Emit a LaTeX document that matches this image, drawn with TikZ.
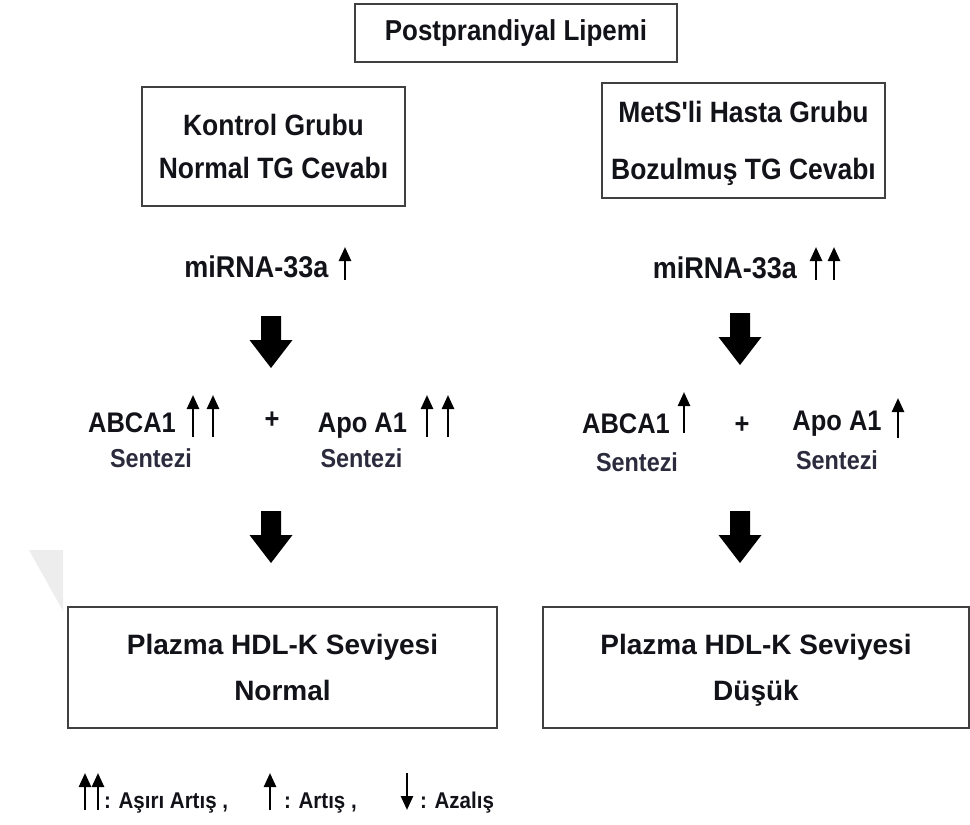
\documentclass[tikz,border=0pt]{standalone}
\usepackage{fontspec}
\setmainfont{Liberation Sans}[FakeStretch=0.9, Ligatures=TeXOff]
\newfontfamily\widefont{Liberation Sans}[Ligatures=TeXOff]
\usetikzlibrary{arrows.meta, positioning}
\definecolor{boxgrey}{rgb}{0.25, 0.25, 0.25}
\definecolor{textdark}{rgb}{0.07, 0.07, 0.1}
\definecolor{sentgrey}{rgb}{0.17, 0.17, 0.24}
\definecolor{markgrey}{rgb}{0.93, 0.93, 0.93}

\tikzset{
    box/.style = {draw=boxgrey, line width=2pt, align=center, inner sep=0pt, text=textdark},
    lbl/.style = {anchor=base, inner sep=0pt, text=textdark},
    upmark/.style = {-{Triangle[length=14pt, width=12pt]}, line width=2.5pt},
    pics/bigdown/.style = {code={
        \fill (-10,0) -- (10,0) -- (10,24) -- (21.5,24) -- (0,52) -- (-21.5,24) -- (-10,24) -- cycle;
    }}
}

\begin{document}
\begin{tikzpicture}[x=1pt, y=-1pt]
    \useasboundingbox (0,0) rectangle (970,825);
    \fill[markgrey] (29,550) -- (63,550) -- (63,611) -- cycle;

    % boxes
    \node[box, minimum width=322pt, minimum height=58pt, font=\bfseries\fontsize{28.8}{30}\selectfont] (lipemi) at (516,33) {Postprandiyal Lipemi};
    \node[box, minimum width=263pt, minimum height=119pt, font=\bfseries\fontsize{29.4}{43}\selectfont] (kontrol) at (273.5,146.5) {Kontrol Grubu\\Normal TG Cevabı};
    \node[box, minimum width=283pt, minimum height=115pt, font=\bfseries\fontsize{29.4}{57}\selectfont] (mets) at (743.5,140.5) {MetS'li Hasta Grubu\\Bozulmu\smash{ş} TG Cevabı};
    \node[box, minimum width=429pt, minimum height=121pt, font=\widefont\bfseries\fontsize{28}{46}\selectfont] (hdlnormal) at (282.5,667.5) {Plazma HDL-K Seviyesi\\Normal};
    \node[box, minimum width=426pt, minimum height=121pt, font=\widefont\bfseries\fontsize{28}{46}\selectfont] (hdldusuk) at (756,667.5) {Plazma HDL-K Seviyesi\\Dü\smash{ş}ük};

    \begin{scope}[every node/.style = {lbl, font=\bfseries\fontsize{28.3}{30}\selectfont}]
        \node[font=\bfseries\fontsize{30}{32}\selectfont] (mirA) at (256.5,277) {miRNA-33a};
        \node[font=\bfseries\fontsize{30}{32}\selectfont] (mirB) at (725,278) {miRNA-33a};
        \node (abcaA) at (132,432) {ABCA1};
        \node (apoA) at (362.5,432) {Apo A1};
        \node (abcaB) at (626,433) {ABCA1};
        \node (apoB) at (837,430) {Apo A1};
        \node[anchor=center] (plusA) at (272,420) {+};
        \node[anchor=center] (plusB) at (742,425) {+};
        \node[text=sentgrey, font=\bfseries\fontsize{26}{28}\selectfont] (sentA1) at (151,467) {Sentezi};
        \node[text=sentgrey, font=\bfseries\fontsize{26}{28}\selectfont] (sentA2) at (361.5,467) {Sentezi};
        \node[text=sentgrey, font=\bfseries\fontsize{26}{28}\selectfont] (sentB1) at (637,471) {Sentezi};
        \node[text=sentgrey, font=\bfseries\fontsize{26}{28}\selectfont] (sentB2) at (837,469) {Sentezi};
    \end{scope}

    \pic at (271,316) {bigdown};
    \pic at (740,313) {bigdown};
    \pic at (271,511) {bigdown};
    \pic at (740,511) {bigdown};

    \foreach \x/\yb/\yt in {345/280/247, 816/280/247, 834/280/247, 193/437/395, 213/437/395,
                            427/437/395, 448/437/395, 684/433/392, 898/438/398}{
        \draw[upmark] (\x,\yb) -- (\x,\yt);
    }

    % legend
    \draw[upmark] (85,810) -- (85,773);
    \draw[upmark] (98,810) -- (98,773);
    \draw[upmark] (270,810) -- (270,773);
    \draw[upmark] (407,773) -- (407,810);
    \begin{scope}[every node/.style = {lbl, anchor=base west, font=\bfseries\fontsize{22.8}{24}\selectfont}]
        \node (legA) at (104,808) {: Aşırı Artış ,};
        \node (legB) at (284,808) {: Artış ,};
        \node (legC) at (420,808) {: Azalış};
    \end{scope}
\end{tikzpicture}
\end{document}
